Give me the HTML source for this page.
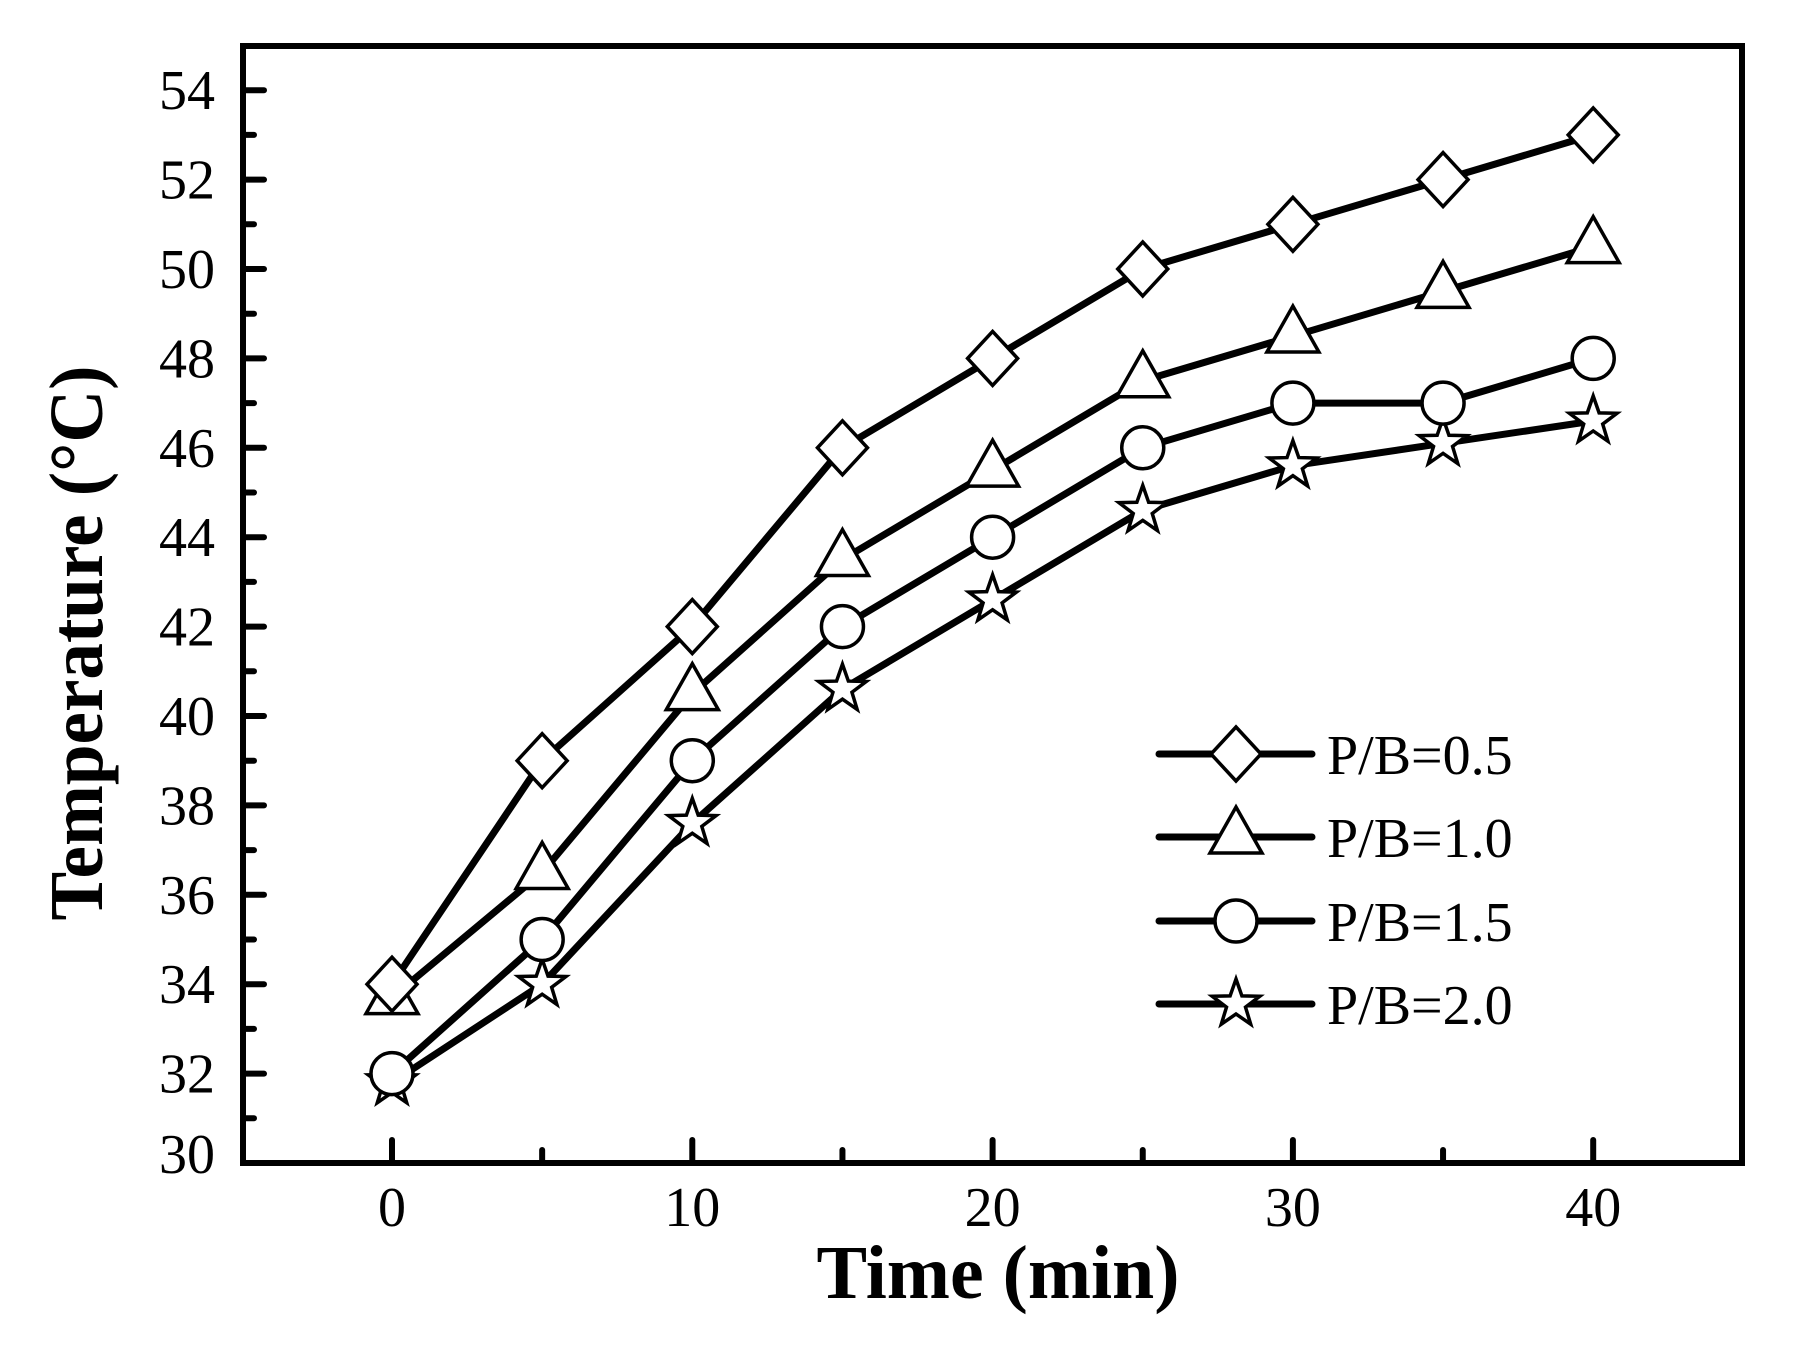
<!DOCTYPE html>
<html><head><meta charset="utf-8"><style>html,body{margin:0;padding:0;background:#fff}svg{display:block}</style></head>
<body>
<svg width="1804" height="1352" viewBox="0 0 1804 1352" xmlns="http://www.w3.org/2000/svg">
<defs>
<g id="dia"><polygon points="0,-27 25,0 0,27 -25,0" fill="#fff" stroke="#000" stroke-width="3.5"/></g>
<g id="tri"><polygon points="0,-30 26,16 -26,16" fill="#fff" stroke="#000" stroke-width="3.5"/></g>
<g id="cir"><circle r="21" fill="#fff" stroke="#000" stroke-width="3.5"/></g>
<g id="star"><polygon points="0,-25 5.9,-8.1 23.8,-7.7 9.5,3.1 14.7,20.2 0,10 -14.7,20.2 -9.5,3.1 -23.8,-7.7 -5.9,-8.1" fill="#fff" stroke="#000" stroke-width="3.5"/></g>
</defs>
<g id="plot"></g>
<rect x="243" y="46" width="1499" height="1117" fill="none" stroke="#000" stroke-width="6"/>
<g id="ticks" stroke="#000" stroke-width="6" stroke-linecap="round"></g>
<g id="labels" font-family="Liberation Serif, serif" font-size="56" fill="#000"></g>
<text x="998" y="1298" font-family="Liberation Serif, serif" font-weight="bold" font-size="76" text-anchor="middle" textLength="363" lengthAdjust="spacingAndGlyphs">Time (min)</text>
<text transform="translate(102,643) rotate(-90)" font-family="Liberation Serif, serif" font-weight="bold" font-size="76" text-anchor="middle" textLength="555" lengthAdjust="spacingAndGlyphs">Temperature (°C)</text>
<g id="legend" font-family="Liberation Serif, serif" font-size="56"></g>
</svg>
<script>
const NS="http://www.w3.org/2000/svg";
const X=t=>392+t*30.03, Y=v=>1163-(v-30)*44.7;
function el(n,a,p,txt){const e=document.createElementNS(NS,n);for(const k in a)e.setAttribute(k,a[k]);if(txt!=null)e.textContent=txt;document.getElementById(p).appendChild(e);return e;}
const T=[0,5,10,15,20,25,30,35,40];
const S=[
 ["dia",[34,39,42,46,48,50,51,52,53]],
 ["tri",[33.7,36.5,40.5,43.5,45.5,47.5,48.5,49.5,50.5]],
 ["cir",[32,35,39,42,44,46,47,47,48]],
 ["star",[31.8,34,37.6,40.6,42.6,44.6,45.6,46.1,46.6]]];
const R=S.slice().reverse();
R.forEach(([m,d])=>{el("polyline",{points:d.map((v,i)=>X(T[i])+","+Y(v)).join(" "),fill:"none",stroke:"#000","stroke-width":7,"stroke-linejoin":"round"},"plot");});
R.forEach(([m,d])=>{d.forEach((v,i)=>el("use",{href:"#"+m,transform:`translate(${X(T[i])},${Y(v)})`},"plot"));});
for(let v=31;v<=54;v++){const maj=v%2==0;const y=Y(v);el("line",{x1:246,y1:y,x2:246+(maj?18:8),y2:y},"ticks");if(maj)el("text",{x:215,y:y+19,"text-anchor":"end"},"labels",String(v));}
el("text",{x:215,y:Y(30)+10,"text-anchor":"end"},"labels","30");
T.forEach(t=>{const maj=t%10==0;el("line",{x1:X(t),y1:1160,x2:X(t),y2:1160-(maj?20:10)},"ticks");if(maj)el("text",{x:X(t),y:1226,"text-anchor":"middle"},"labels",String(t));});
const LY=[754,837,921,1004],LN=["P/B=0.5","P/B=1.0","P/B=1.5","P/B=2.0"];
S.forEach(([m],i)=>{el("line",{x1:1159,y1:LY[i],x2:1312,y2:LY[i],stroke:"#000","stroke-width":7,"stroke-linecap":"round"},"legend");el("use",{href:"#"+m,transform:`translate(1236,${LY[i]})`},"legend");el("text",{x:1327,y:LY[i]+20},"legend",LN[i]);});
</script>
</body></html>
